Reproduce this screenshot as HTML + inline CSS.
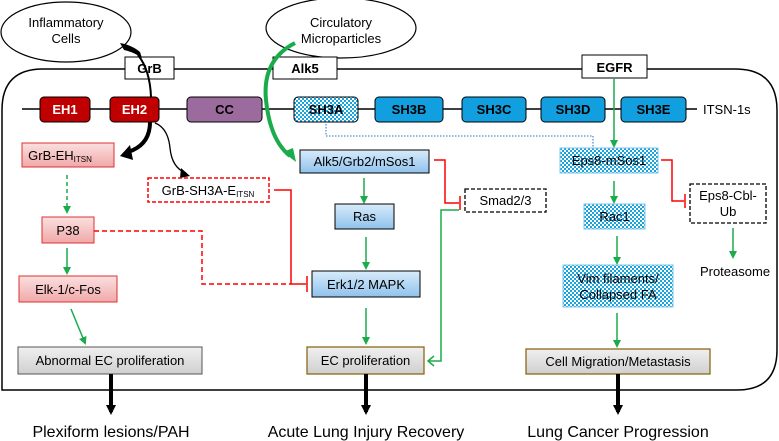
<!DOCTYPE html>
<html><head><style>
html,body{margin:0;padding:0;background:#fff;}
svg{display:block;font-family:"Liberation Sans",Arial,sans-serif;}
</style></head><body>
<svg width="779" height="441" viewBox="0 0 779 441" xmlns="http://www.w3.org/2000/svg">
<defs>
<pattern id="chk" width="4" height="4" patternUnits="userSpaceOnUse">
<rect width="4" height="4" fill="#fff"/><rect width="2" height="2" fill="#19a3dc"/><rect x="2" y="2" width="2" height="2" fill="#19a3dc"/>
</pattern>
<linearGradient id="bl" x1="0" y1="0" x2="0" y2="1"><stop offset="0" stop-color="#d8ebfa"/><stop offset="1" stop-color="#8fc2ec"/></linearGradient>
<linearGradient id="pk" x1="0" y1="0" x2="0" y2="1"><stop offset="0" stop-color="#fbe0e0"/><stop offset="1" stop-color="#f0a8a8"/></linearGradient>
<linearGradient id="gr" x1="0" y1="0" x2="0" y2="1"><stop offset="0" stop-color="#f0f0f0"/><stop offset="1" stop-color="#cfcfcf"/></linearGradient>
<marker id="ga" markerWidth="8" markerHeight="8" refX="6" refY="4" orient="auto" markerUnits="userSpaceOnUse"><path d="M0,0 L8,4 L0,8 z" fill="#1aab4b"/></marker>
<marker id="ba" markerWidth="10" markerHeight="10" refX="7" refY="5" orient="auto" markerUnits="userSpaceOnUse"><path d="M0,0 L10,5 L0,10 z" fill="#000"/></marker>
</defs>

<path d="M2,390 L2,110 Q2,69 43,69 L735,69 Q777,69 777,110 L777,350 Q777,390 737,390 Z" fill="none" stroke="#000" stroke-width="1.5"/>

<ellipse cx="66" cy="32" rx="65" ry="30" fill="#fff" stroke="#000" stroke-width="1.2"/>
<text x="66" y="27" font-size="13" text-anchor="middle">Inflammatory</text>
<text x="66" y="43" font-size="13" text-anchor="middle">Cells</text>
<ellipse cx="341" cy="28" rx="75" ry="30" fill="#fff" stroke="#000" stroke-width="1.2"/>
<text x="341" y="27" font-size="13" text-anchor="middle">Circulatory</text>
<text x="341" y="43" font-size="13" text-anchor="middle">Microparticles</text>

<rect x="125" y="57" width="49" height="22" fill="#fff" stroke="#000"/>
<text x="149.5" y="73" font-size="13" font-weight="bold" text-anchor="middle">GrB</text>
<rect x="273" y="57" width="64" height="22" fill="#fff" stroke="#000"/>
<text x="305" y="73" font-size="13" font-weight="bold" text-anchor="middle">Alk5</text>
<rect x="582" y="55" width="65" height="23" fill="#fff" stroke="#000"/>
<text x="614.5" y="72" font-size="13" font-weight="bold" text-anchor="middle">EGFR</text>

<line x1="22" y1="109" x2="697" y2="109" stroke="#000" stroke-width="1.5"/>
<g font-size="13" font-weight="bold" text-anchor="middle">
<rect x="40" y="97" width="50" height="25" rx="4" fill="#c00000" stroke="#000"/><text x="65" y="114" fill="#fff">EH1</text>
<rect x="110" y="97" width="49" height="25" rx="4" fill="#c00000" stroke="#000"/><text x="134.5" y="114" fill="#fff">EH2</text>
<rect x="187" y="97" width="75" height="25" rx="4" fill="#9a6b9c" stroke="#000"/><text x="224.5" y="114">CC</text>
<rect x="294" y="97" width="64" height="25" rx="4" fill="url(#chk)" stroke="#000"/><text x="326" y="114">SH3A</text>
<rect x="375" y="97" width="68" height="25" rx="4" fill="#119fe0" stroke="#000"/><text x="409" y="114">SH3B</text>
<rect x="462" y="97" width="64" height="25" rx="4" fill="#119fe0" stroke="#000"/><text x="494" y="114">SH3C</text>
<rect x="541" y="97" width="64" height="25" rx="4" fill="#119fe0" stroke="#000"/><text x="573" y="114">SH3D</text>
<rect x="621" y="97" width="65" height="25" rx="4" fill="#119fe0" stroke="#000"/><text x="653.5" y="114">SH3E</text>
</g>
<text x="703" y="114" font-size="13">ITSN-1s</text>

<path d="M151,97 Q150,70 138,55" fill="none" stroke="#000" stroke-width="2"/>
<path d="M120,43 Q132,45 140,52 L142,58 Q134,52 124,50 Z" fill="#000"/>
<path d="M150,122 Q150,145 128,152" fill="none" stroke="#000" stroke-width="4"/>
<path d="M130,145 L120,156 L133,160 Z" fill="#000"/>
<path d="M155,123 Q168,128 170,148 Q172,168 186,173" fill="none" stroke="#000" stroke-width="1.3"/>
<path d="M181,168 L190,176 L180,178 Z" fill="#000"/>

<path d="M295,43 Q262,60 266,100 Q270,140 290,156" fill="none" stroke="#1aab4b" stroke-width="4"/>
<path d="M283,152 L296,162 L293,148 Z" fill="#1aab4b"/>

<rect x="22" y="143" width="92" height="24" fill="url(#pk)" stroke="#e03030"/>
<text x="60" y="160" font-size="13" text-anchor="middle">GrB-EH<tspan font-size="8" dy="2">ITSN</tspan></text>
<line x1="67" y1="175" x2="67" y2="212" stroke="#1aab4b" stroke-width="1.5" stroke-dasharray="4,3" marker-end="url(#ga)"/>
<rect x="42" y="217" width="52" height="26" fill="url(#pk)" stroke="#e03030"/>
<text x="68" y="235" font-size="13" text-anchor="middle">P38</text>
<line x1="67" y1="248" x2="67" y2="273" stroke="#1aab4b" stroke-width="1.5" marker-end="url(#ga)"/>
<rect x="19" y="276" width="98" height="26" fill="url(#pk)" stroke="#e03030"/>
<text x="68" y="294" font-size="13" text-anchor="middle">Elk-1/c-Fos</text>
<line x1="71" y1="309" x2="85" y2="343" stroke="#1aab4b" stroke-width="1.5" marker-end="url(#ga)"/>
<rect x="18" y="347" width="184" height="27" fill="url(#gr)" stroke="#555"/>
<text x="110" y="365" font-size="13" text-anchor="middle">Abnormal EC proliferation</text>

<rect x="148" y="178" width="121" height="24" fill="#fff" stroke="#f00" stroke-width="1.5" stroke-dasharray="4,2"/>
<text x="208" y="195" font-size="13" text-anchor="middle">GrB-SH3A-E<tspan font-size="8" dy="2">ITSN</tspan></text>
<path d="M274,190 L291,190 L291,284 L306,284" fill="none" stroke="#f00" stroke-width="1.5"/>
<path d="M94,231 L202,231 L202,284 L291,284" fill="none" stroke="#f00" stroke-width="1.5" stroke-dasharray="5,3"/>
<line x1="307" y1="276" x2="307" y2="292" stroke="#f00" stroke-width="1.5"/>

<rect x="300" y="150" width="129" height="23" fill="url(#bl)" stroke="#000"/>
<text x="364.5" y="166" font-size="13" text-anchor="middle">Alk5/Grb2/mSos1</text>
<line x1="364" y1="178" x2="364" y2="202" stroke="#1aab4b" stroke-width="1.5" marker-end="url(#ga)"/>
<rect x="335" y="204" width="59" height="25" fill="url(#bl)" stroke="#000"/>
<text x="364.5" y="221" font-size="13" text-anchor="middle">Ras</text>
<line x1="366" y1="237" x2="366" y2="268" stroke="#1aab4b" stroke-width="1.5" marker-end="url(#ga)"/>
<rect x="312" y="271" width="108" height="26" fill="url(#bl)" stroke="#000"/>
<text x="366" y="289" font-size="13" text-anchor="middle">Erk1/2 MAPK</text>
<line x1="366" y1="308" x2="366" y2="343" stroke="#1aab4b" stroke-width="1.5" marker-end="url(#ga)"/>
<rect x="307" y="347" width="117" height="27" fill="url(#gr)" stroke="#8b6914" stroke-width="1.3"/>
<text x="365.5" y="365" font-size="13" text-anchor="middle">EC proliferation</text>

<path d="M434,160 L445,160 L445,203 L459,203" fill="none" stroke="#f00" stroke-width="1.5"/>
<line x1="460" y1="196" x2="460" y2="210" stroke="#f00" stroke-width="1.5"/>
<rect x="465" y="189" width="81" height="23" fill="#fff" stroke="#000" stroke-width="1.3" stroke-dasharray="4,2"/>
<text x="505.5" y="205" font-size="13" text-anchor="middle">Smad2/3</text>
<path d="M459,210 L441,210 L441,361 L429,361" fill="none" stroke="#1aab4b" stroke-width="1.5"/>
<path d="M434,356 L428,361 L434,366" fill="none" stroke="#1aab4b" stroke-width="1.5"/>

<path d="M326,124 L326,136 L593,136 L593,147" fill="none" stroke="#4a8fd0" stroke-width="1.3" stroke-dasharray="1.5,1.5"/>

<line x1="614" y1="78" x2="614" y2="146" stroke="#1aab4b" stroke-width="1.5" marker-end="url(#ga)"/>
<rect x="560" y="148" width="98" height="25" fill="url(#chk)" stroke="#7fc7ee"/>
<text x="609" y="165" font-size="13" text-anchor="middle">Eps8-mSos1</text>
<line x1="614" y1="181" x2="614" y2="202" stroke="#1aab4b" stroke-width="1.5" marker-end="url(#ga)"/>
<rect x="584" y="204" width="61" height="25" fill="url(#chk)" stroke="#7fc7ee"/>
<text x="614.5" y="221" font-size="13" text-anchor="middle">Rac1</text>
<line x1="617" y1="236" x2="617" y2="263" stroke="#1aab4b" stroke-width="1.5" marker-end="url(#ga)"/>
<rect x="563" y="265" width="110" height="42" fill="url(#chk)" stroke="#7fc7ee"/>
<text x="618" y="283" font-size="13" text-anchor="middle">Vim filaments/</text>
<text x="618" y="299" font-size="13" text-anchor="middle">Collapsed FA</text>
<line x1="617" y1="313" x2="617" y2="346" stroke="#1aab4b" stroke-width="1.5" marker-end="url(#ga)"/>
<rect x="526" y="349" width="184" height="25" fill="url(#gr)" stroke="#8b6914" stroke-width="1.3"/>
<text x="618" y="366" font-size="13" text-anchor="middle">Cell Migration/Metastasis</text>

<path d="M661,160 L672,160 L672,201 L684,201" fill="none" stroke="#f00" stroke-width="1.5"/>
<line x1="685" y1="194" x2="685" y2="208" stroke="#f00" stroke-width="1.5"/>
<rect x="690" y="184" width="76" height="39" fill="#fff" stroke="#000" stroke-width="1.3" stroke-dasharray="4,2"/>
<text x="728" y="200" font-size="13" text-anchor="middle">Eps8-Cbl-</text>
<text x="728" y="216" font-size="13" text-anchor="middle">Ub</text>
<line x1="733" y1="228" x2="733" y2="257" stroke="#1aab4b" stroke-width="1.5" marker-end="url(#ga)"/>
<text x="735" y="276" font-size="13" text-anchor="middle">Proteasome</text>

<line x1="111" y1="374" x2="111" y2="412" stroke="#000" stroke-width="4" marker-end="url(#ba)"/>
<line x1="366" y1="374" x2="366" y2="412" stroke="#000" stroke-width="4" marker-end="url(#ba)"/>
<line x1="618" y1="374" x2="618" y2="412" stroke="#000" stroke-width="4" marker-end="url(#ba)"/>
<g font-size="16" text-anchor="middle">
<text x="111" y="437">Plexiform lesions/PAH</text>
<text x="366" y="437">Acute Lung Injury Recovery</text>
<text x="618" y="437">Lung Cancer Progression</text>
</g>
</svg>
</body></html>
